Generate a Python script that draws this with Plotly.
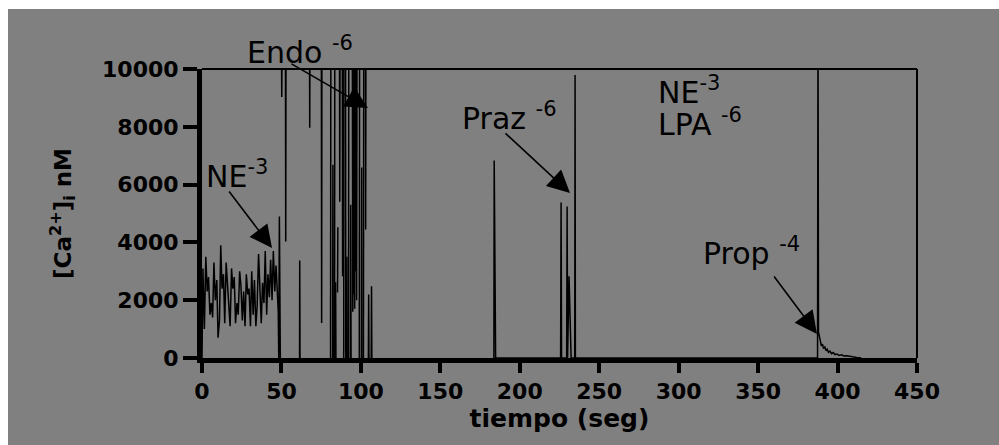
import plotly.graph_objects as go

# ---------------- data (time in s, [Ca2+]i in nM; None = break in trace) ----------------
# NE 10^-3 : baseline oscillations
ne_t = [0, 0.6, 1.5, 2.4, 3.3, 4.1, 5.0, 5.8, 6.7, 7.5,
        8.4, 9.3, 10.1, 11.0, 11.8, 12.6, 13.5, 14.3, 15.2, 16.0,
        16.9, 17.7, 18.6, 19.4, 20.3, 21.1, 22.0, 22.8, 23.7, 24.5,
        25.4, 26.2, 27.1, 27.9, 28.8, 29.6, 30.5, 31.3, 32.2, 33.0,
        33.9, 34.7, 35.6, 36.4, 37.3, 38.1, 39.0, 39.8, 40.7, 41.5,
        42.4, 43.2, 44.1, 44.9, 45.8, 46.6, 47.5, 48.0, 48.3, 48.7,
        49.3]
ne_v = [0, 3100, 1000, 3500, 2300, 2800, 1500, 1900, 1400, 3300,
        2000, 2700, 700, 1300, 3900, 2400, 2900, 1200, 3300, 2600,
        1500, 1100, 3100, 2400, 2800, 1200, 1900, 1500, 3000, 2500,
        1300, 2300, 1100, 2900, 2200, 2400, 1100, 3000, 1500, 2700,
        1100, 1800, 3600, 2600, 1200, 2600, 1900, 3700, 1500, 2900,
        2100, 3400, 2000, 3700, 2300, 3200, 2000, 1600, 0, 4900,
        0]

# Endo 10^-6 : saturating spikes (12000 = off-scale, clipped at 10000)
endo_t = [None,
          49.9, 50.2, 50.5, None,
          52.5, 52.7, 52.9, None,
          61.4, 61.5, 61.7, None,
          67.6, 67.8, 68.0, None,
          75.1, 75.3, 75.5, None,
          80.9, 81.1, None,
          82.2, 82.4, 82.6, None,
          83.4, 83.6, None,
          84.0, 84.1, 84.3, None,
          85.3, 85.5, None,
          86.5, 86.7, 86.9, None,
          88.3, 88.5, 88.7, None,
          89.2, 89.3, None,
          90.3, 90.5, None,
          91.0, 91.2, 91.4, None,
          92.2, 92.4, None,
          93.4, 93.6, 93.8, None,
          94.6, 94.9, 95.2, 95.5, 95.8, 96.1, 96.4, 96.7, None,
          97.0, 97.3, 97.6, None,
          99.0, 99.2, None,
          100.3, 100.5, 100.7, None,
          101.6, 101.8, None,
          102.8, 103.0, 103.2, None,
          104.7, 104.9, 105.1, None,
          106.5, 106.7, 106.9, None]
endo_v = [None,
          12000, 9030, 12000, None,
          12000, 4030, 12000, None,
          0, 3370, 0, None,
          12000, 7970, 12000, None,
          12000, 1210, 12000, None,
          0, 12000, None,
          0, 6690, 0, None,
          0, 12000, None,
          0, 2620, 0, None,
          2270, 4520, None,
          12000, 5410, 12000, None,
          12000, 2830, 12000, None,
          0, 12000, None,
          12000, 0, None,
          0, 3500, 0, None,
          0, 12000, None,
          0, 5300, 0, None,
          12000, 1600, 12000, 2200, 12000, 1700, 12000, 3000, None,
          12000, 2000, 12000, None,
          0, 12000, None,
          0, 6590, 0, None,
          0, 12000, None,
          12000, 4450, 12000, None,
          0, 2200, 0, None,
          0, 2480, 0, None]

# Praz 10^-6 and NE 10^-3 + LPA 10^-6
praz_t = [183.7, 183.9, 184.8, 225.7, 226.0, 226.3, 229.5, 229.8, 230.1, 231.0,
          232.3, 234.6, 234.8, 235.0]
praz_v = [0, 6830, 0, 0, 5380, 0, 0, 5240, 0, 2830,
          0, 0, 9790, 0]

# Prop 10^-4 : recovery
prop_t = [387.4, 387.7, 388.0, 388.6, 389.2, 389.8, 390.5, 391.2, 392.0, 392.8,
          393.5, 394.3, 395.2, 396.2, 397.3, 398.4, 399.6, 401.0, 402.5, 404.0,
          405.8, 407.5, 409.5, 412.0, 415.0]
prop_v = [0, 12000, 900, 700, 560, 420, 480, 330, 380, 250,
          300, 200, 240, 150, 190, 120, 140, 90, 110, 70,
          80, 50, 40, 20, 0]

x_ticks = [0, 50, 100, 150, 200, 250, 300, 350, 400, 450]
y_ticks = [0, 2000, 4000, 6000, 8000, 10000]

assert len(ne_t) == len(ne_v) and len(endo_t) == len(endo_v)
assert len(praz_t) == len(praz_v) and len(prop_t) == len(prop_v)
time = ne_t + endo_t + praz_t + prop_t
calcium = ne_v + endo_v + praz_v + prop_v

# ---------------- geometry ----------------
W, H = 999, 445
L, R, T, B = 202, 82, 69, 87
PW, PH = W - L - R, H - T - B


def px(x, y):
    """pixel position in the page -> paper coordinates"""
    return (x - L) / PW, (H - B - y) / PH


GRAY = "#808080"
FONT = "DejaVu Sans"

fig = go.Figure()
fig.add_trace(go.Scatter(x=time, y=calcium, mode="lines", connectgaps=False,
                         line=dict(color="black", width=1.5), hoverinfo="skip"))

fig.update_layout(
    width=W, height=H,
    margin=dict(l=L, r=R, t=T, b=B, pad=0),
    paper_bgcolor=GRAY, plot_bgcolor=GRAY,
    showlegend=False,
    font=dict(family=FONT, color="black"),
)

fig.update_xaxes(range=[0, 450], tickvals=x_ticks, ticktext=[str(v) for v in x_ticks],
                 ticks="outside", ticklen=10, tickwidth=4, tickcolor="black",
                 showline=True, linewidth=5, linecolor="black",
                 showgrid=False, zeroline=False,
                 tickfont=dict(family=FONT, size=22, weight="bold", color="black"),
                 title=dict(text="tiempo (seg)", standoff=6,
                            font=dict(family=FONT, size=25, weight="bold", color="black")))
fig.update_yaxes(range=[0, 10000], tickvals=y_ticks, ticktext=[str(v) for v in y_ticks],
                 ticks="outside", ticklen=14, tickwidth=4, tickcolor="black",
                 showline=True, linewidth=5, linecolor="black",
                 showgrid=False, zeroline=False,
                 tickfont=dict(family=FONT, size=22, weight="bold", color="black"),
                 title=dict(text="[Ca<sup>2+</sup>]<sub>i</sub> nM", standoff=26,
                            font=dict(family=FONT, size=23, weight="bold", color="black")))

# white strips on top and left, frame lines on top/right
x0, y0 = px(0, 0)
x1, y1 = px(W, 9)
fig.add_shape(type="rect", xref="paper", yref="paper", x0=x0, x1=x1, y0=y1, y1=y0,
              fillcolor="white", line=dict(width=0), layer="below")
x1b, yb = px(8, H)
fig.add_shape(type="rect", xref="paper", yref="paper", x0=x0, x1=x1b, y0=yb, y1=y0,
              fillcolor="white", line=dict(width=0), layer="below")
fig.add_shape(type="line", xref="paper", yref="paper", x0=0, x1=1, y0=1, y1=1,
              line=dict(color="black", width=2))
fig.add_shape(type="line", xref="paper", yref="paper", x0=1, x1=1, y0=0, y1=1,
              line=dict(color="black", width=2))

# text labels (left edge px, centre px)
labels = [
    ("Endo <sup>-6</sup>", 245, 50),
    ("NE<sup>-3</sup>", 204, 174),
    ("Praz <sup>-6</sup>", 460, 116),
    ("NE<sup>-3</sup>", 656, 90),
    ("LPA <sup>-6</sup>", 656, 122),
    ("Prop <sup>-4</sup>", 701, 252),
]
for txt, lx, ly in labels:
    ax_, ay_ = px(lx, ly)
    fig.add_annotation(text=txt, x=ax_, y=ay_, xref="paper", yref="paper",
                       xanchor="left", yanchor="middle", showarrow=False,
                       font=dict(family=FONT, size=30, color="black"))

# arrows: (head px), (tail px)
arrows = [
    ((368, 108), (290, 63)),
    ((272, 248), (228, 190)),
    ((570, 193), (504, 132)),
    ((817, 334), (773, 275)),
]
for (hx, hy), (tx, ty) in arrows:
    ax_, ay_ = px(hx, hy)
    fig.add_annotation(text="", x=ax_, y=ay_, xref="paper", yref="paper",
                       ax=tx - hx, ay=ty - hy, showarrow=True,
                       arrowhead=2, arrowsize=2.8, arrowwidth=1.6, arrowcolor="black",
                       standoff=0, startstandoff=0)

fig.write_html("out.html")
